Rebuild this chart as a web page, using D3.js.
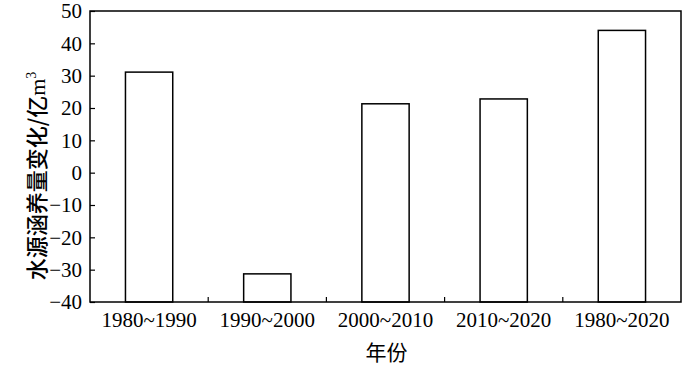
<!DOCTYPE html>
<html>
<head>
<meta charset="utf-8">
<script src="https://cdn.jsdelivr.net/npm/d3@7"></script>
<style>
  body { margin: 0; background: #fff; }
  svg text { fill: #000; }
  .num { font-family: "Times New Roman", "Liberation Serif", Tinos, "DejaVu Serif", serif; }
  .cjk { font-family: "Noto Sans CJK SC", sans-serif; }
</style>
</head>
<body>
<div id="vis"></div>
<script>
var periods = ['1980~1990', '1990~2000', '2000~2010', '2010~2020', '1980~2020'];
var changes = [31.1, -31.3, 21.3, 22.8, 44.0];
var yTicks = [50, 40, 30, 20, 10, 0, -10, -20, -30, -40];

var width = 700;
var height = 367;
var margin = { top: 11, right: 19, bottom: 65, left: 90 };
var innerW = width - margin.left - margin.right;
var innerH = height - margin.top - margin.bottom;

var svg = d3.select('#vis')
  .append('svg')
  .attr('width', width)
  .attr('height', height);

var g = svg.append('g')
  .attr('transform', 'translate(' + margin.left + ',' + margin.top + ')');

var x = d3.scaleBand()
  .domain(periods)
  .range([0, innerW]);

var y = d3.scaleLinear()
  .domain([-40, 50])
  .range([innerH, 0]);

var barW = x.bandwidth() * 0.4;

// bars rise from the bottom of the axis (-40)
g.selectAll('.bar')
  .data(changes)
  .enter().append('rect')
  .attr('class', 'bar')
  .attr('x', function(d, i) { return x(periods[i]) + (x.bandwidth() - barW) / 2; })
  .attr('y', function(d) { return y(d); })
  .attr('width', barW)
  .attr('height', function(d) { return y(-40) - y(d); })
  .attr('fill', '#fff')
  .attr('stroke', '#000')
  .attr('stroke-width', 1.5);

// frame
g.append('rect')
  .attr('width', innerW)
  .attr('height', innerH)
  .attr('fill', 'none')
  .attr('stroke', '#000')
  .attr('stroke-width', 1.5);

// y ticks, pointing inward
var yAxis = g.append('g')
  .call(d3.axisLeft(y).tickValues(yTicks).tickSize(-5).tickPadding(8).tickFormat(function(d) {
    return d < 0 ? '\u2212' + Math.abs(d) : d;
  }));
yAxis.attr('font-family', null).attr('font-size', null);
yAxis.select('.domain').remove();
yAxis.selectAll('.tick line').attr('stroke', '#000').attr('stroke-width', 1.2);
yAxis.selectAll('.tick text')
  .attr('class', 'num')
  .style('font-size', '21px')
  .attr('fill', '#000');

// category boundary ticks
var bounds = periods.slice(1).map(function(p) { return x(p); });
g.selectAll('.sep')
  .data(bounds)
  .enter().append('line')
  .attr('x1', function(d) { return d; })
  .attr('x2', function(d) { return d; })
  .attr('y1', innerH)
  .attr('y2', innerH - 5)
  .attr('stroke', '#000')
  .attr('stroke-width', 1.2);

// x labels
var xAxis = g.append('g')
  .attr('transform', 'translate(0,' + innerH + ')')
  .call(d3.axisBottom(x).tickSize(0).tickPadding(10));
xAxis.attr('font-family', null).attr('font-size', null);
xAxis.select('.domain').remove();
xAxis.selectAll('.tick text')
  .attr('class', 'num')
  .style('font-size', '21px')
  .attr('fill', '#000');

// axis titles
svg.append('text')
  .attr('class', 'cjk')
  .attr('x', margin.left + innerW / 2 + 1)
  .attr('y', 360)
  .attr('text-anchor', 'middle')
  .style('font-size', '21px')
  .text('年份');

var yt = svg.append('text')
  .attr('transform', 'translate(45,176) rotate(-90)')
  .attr('text-anchor', 'middle')
  .style('font-size', '22px');
yt.append('tspan').attr('class', 'cjk').style('font-weight', '500').text('水源涵养量变化/亿');
yt.append('tspan').attr('class', 'num').text('m');
yt.append('tspan').attr('class', 'num').style('font-size', '14px').attr('dy', -9).text('3');
</script>
</body>
</html>
